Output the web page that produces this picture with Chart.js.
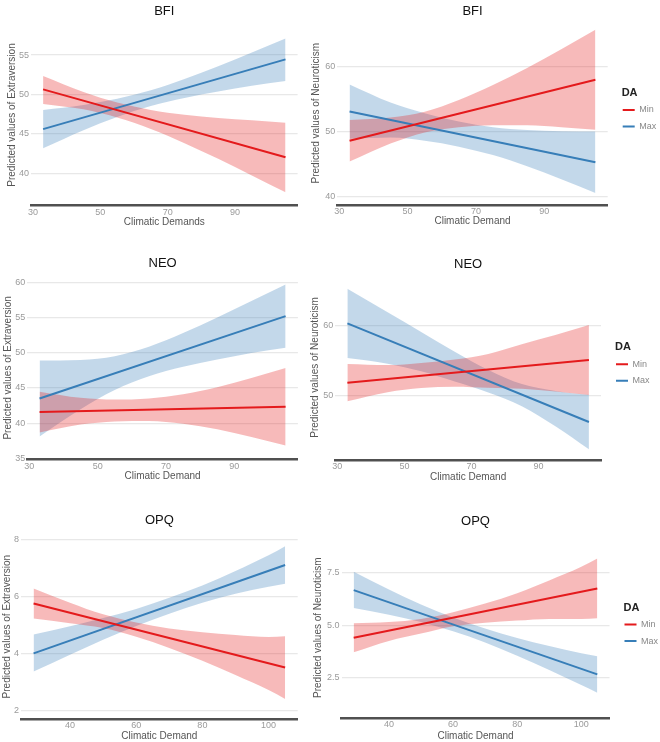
<!DOCTYPE html>
<html>
<head>
<meta charset="utf-8">
<title>Climatic demand interaction plots</title>
<script src="https://cdn.jsdelivr.net/npm/chart.js@4.4.1/dist/chart.umd.min.js"></script>
<style>
    html, body { margin: 0; padding: 0; background: #fff; }
    body { width: 660px; height: 742px; position: relative; overflow: hidden; }
    canvas { position: absolute; }
</style>
</head>
<body>
<canvas id="bfi-ext"></canvas>
<canvas id="bfi-neu"></canvas>
<canvas id="neo-ext"></canvas>
<canvas id="neo-neu"></canvas>
<canvas id="opq-ext"></canvas>
<canvas id="opq-neu"></canvas>
<script>
// --- DATA ---
const seriesNames = ['Min', 'Max'];

// BFI / NEO share the same climatic demand span, OPQ a wider one
const bigFiveX = [33, 45, 55, 65, 75, 85, 95, 105];
const bigFiveLineX = [33, 105];
const opqX = [29, 40, 50, 60, 70, 80, 90, 100, 105];
const opqLineX = [29, 105];

const ticks3070 = [30, 50, 70, 90];
const ticks40100 = [40, 60, 80, 100];

// BFI - Extraversion
const bfiExtMin = [50.65, 42.03];
const bfiExtMax = [45.6, 54.45];
const bfiExtMinLo = [48.8, 48.11, 47.07, 45.62, 43.82, 41.83, 39.73, 37.6];
const bfiExtMinHi = [52.35, 50.31, 48.97, 48.02, 47.42, 47.03, 46.73, 46.42];
const bfiExtMaxLo = [43.17, 45.47, 47.15, 48.53, 49.56, 50.39, 51.12, 51.7];
const bfiExtMaxHi = [48.03, 48.67, 49.45, 50.53, 51.96, 53.59, 55.32, 57.1];
const bfiExtTicks = [40, 45, 50, 55];

// BFI - Neuroticism
const bfiNeuMin = [48.6, 58.0];
const bfiNeuMax = [53.1, 45.3];
const bfiNeuMinLo = [45.4, 48.17, 49.87, 50.68, 50.99, 50.99, 50.7, 50.3];
const bfiNeuMinHi = [51.8, 52.17, 53.07, 54.88, 57.19, 59.79, 62.7, 65.7];
const bfiNeuMaxLo = [48.92, 49.1, 48.6, 47.7, 46.4, 44.67, 42.68, 40.56];
const bfiNeuMaxHi = [57.28, 54.5, 52.84, 51.56, 50.7, 50.27, 50.08, 50.04];
const bfiNeuTicks = [40, 50, 60];

// NEO - Extraversion
const neoExtMin = [41.56, 42.32];
const neoExtMax = [43.5, 55.2];
const neoExtMinLo = [38.66, 39.79, 40.24, 40.3, 39.9, 39.11, 38.02, 36.82];
const neoExtMinHi = [44.46, 43.59, 43.34, 43.5, 44.1, 45.11, 46.42, 47.82];
const neoExtMaxLo = [38.1, 41.97, 44.71, 46.65, 47.99, 49.02, 49.96, 50.72];
const neoExtMaxHi = [48.9, 48.97, 49.51, 50.85, 52.79, 55.02, 57.36, 59.68];
const neoExtTicks = [35, 40, 45, 50, 55, 60];

// NEO - Neuroticism
const neoNeuMin = [51.87, 55.12];
const neoNeuMax = [60.38, 46.22];
const neoNeuMinLo = [49.19, 50.5, 51.1, 51.3, 51.15, 51.0, 50.6, 50.1];
const neoNeuMinHi = [54.55, 54.4, 54.7, 55.2, 56.0, 57.4, 58.7, 60.14];
const neoNeuMaxLo = [55.4, 54.6, 53.49, 52.02, 50.45, 48.5, 45.6, 42.3];
const neoNeuMaxHi = [65.36, 61.97, 59.15, 56.32, 53.69, 51.67, 50.69, 50.12];
const neoNeuTicks = [50, 60];

// OPQ - Extraversion
const opqExtMin = [5.75, 3.5];
const opqExtMax = [4.0, 7.1];
const opqExtMinLo = [5.22, 5.06, 4.89, 4.58, 4.19, 3.74, 3.24, 2.71, 2.4];
const opqExtMinHi = [6.28, 5.78, 5.37, 5.08, 4.87, 4.74, 4.64, 4.57, 4.6];
const opqExtMaxLo = [3.36, 3.95, 4.48, 4.96, 5.39, 5.78, 6.09, 6.34, 6.44];
const opqExtMaxHi = [4.66, 4.95, 5.24, 5.56, 5.95, 6.38, 6.89, 7.44, 7.76];
const opqExtTicks = [2, 4, 6, 8];

// OPQ - Neuroticism
const opqNeuMin = [4.4, 6.75];
const opqNeuMax = [6.67, 2.66];
const opqNeuMinLo = [3.71, 4.25, 4.6, 4.95, 5.12, 5.22, 5.3, 5.3, 5.33];
const opqNeuMinHi = [5.09, 5.15, 5.3, 5.62, 6.03, 6.52, 7.13, 7.78, 8.18];
const opqNeuMaxLo = [5.82, 5.5, 5.15, 4.71, 4.18, 3.55, 2.87, 2.15, 1.78];
const opqNeuMaxHi = [7.54, 6.7, 5.99, 5.37, 4.84, 4.39, 4.01, 3.67, 3.52];
const opqNeuTicks = [2.5, 5.0, 7.5];

// --- STYLE ---
const RED = '#E41A1C';
const BLUE = '#377EB8';
const RED_BAND = 'rgba(228, 26, 28, 0.3)';
const BLUE_BAND = 'rgba(55, 126, 184, 0.3)';
const FONT = '"Liberation Sans", Arial, Helvetica, sans-serif';
const TITLE_SIZE = 13;
const AXIS_TITLE_SIZE = 10;
const LEGEND_W = 29;

Chart.defaults.font.family = FONT;

// moves the legend a bit right of the plot (ggplot guide box) and
// widens its clip box so "Min" / "Max" are not cut off
const legendNudge = {
    id: 'legendNudge',
    afterLayout(chart, args, opts) {
        const lg = chart.legend;
        if (!lg || !lg.options.display) return;
        lg.left += opts.dx || 0;
        lg.right = chart.width;
    }
};

const pts = (xs, ys) => xs.map((x, i) => ({ x, y: ys[i] }));

// --- PANELS ---
// box: canvas [left, top, width, height]; area: plot [left, top, right, bottom]
const panels = [
    {
        id: 'bfi-ext', title: 'BFI', yTitle: 'Predicted values of Extraversion', xTitle: 'Climatic Demands',
        box: [0, 0, 300, 240], area: [31, 24.3, 297.6, 205.7], titleY: 11.5, yTitleX: 12.3, xTitleY: 222,
        x: [29.41, 108.59], y: [35.89, 58.9], xTicks: ticks3070, yTicks: bfiExtTicks,
        bandX: bigFiveX, lineX: bigFiveLineX,
        min: bfiExtMin, max: bfiExtMax, minLo: bfiExtMinLo, minHi: bfiExtMinHi, maxLo: bfiExtMaxLo, maxHi: bfiExtMaxHi,
        legend: false
    },
    {
        id: 'bfi-neu', title: 'BFI', yTitle: 'Predicted values of Neuroticism', xTitle: 'Climatic Demand',
        box: [300, 0, 360, 240], area: [337.3, 21.2, 607.7, 205.1], titleY: 11, yTitleX: 316.7, xTitleY: 221.7,
        x: [29.41, 108.6], y: [38.71, 67.0], xTicks: ticks3070, yTicks: bfiNeuTicks,
        bandX: bigFiveX, lineX: bigFiveLineX,
        min: bfiNeuMin, max: bfiNeuMax, minLo: bfiNeuMinLo, minHi: bfiNeuMinHi, maxLo: bfiNeuMaxLo, maxHi: bfiNeuMaxHi,
        legend: true
    },
    {
        id: 'neo-ext', title: 'NEO', yTitle: 'Predicted values of Extraversion', xTitle: 'Climatic Demand',
        box: [0, 240, 300, 250], area: [27.3, 276, 297.9, 459.7], titleY: 263, yTitleX: 8.3, xTitleY: 476.7,
        x: [29.41, 108.6], y: [34.8, 60.9], xTicks: ticks3070, yTicks: neoExtTicks,
        bandX: bigFiveX, lineX: bigFiveLineX,
        min: neoExtMin, max: neoExtMax, minLo: neoExtMinLo, minHi: neoExtMinHi, maxLo: neoExtMaxLo, maxHi: neoExtMaxHi,
        legend: false
    },
    {
        id: 'neo-neu', title: 'NEO', yTitle: 'Predicted values of Neuroticism', xTitle: 'Climatic Demand',
        box: [300, 240, 360, 250], area: [335.3, 275, 601, 459.8], titleY: 264, yTitleX: 315, xTitleY: 477.3,
        x: [29.4, 108.6], y: [40.8, 67.32], xTicks: ticks3070, yTicks: neoNeuTicks,
        bandX: bigFiveX, lineX: bigFiveLineX,
        min: neoNeuMin, max: neoNeuMax, minLo: neoNeuMinLo, minHi: neoNeuMinHi, maxLo: neoNeuMaxLo, maxHi: neoNeuMaxHi,
        legend: true
    },
    {
        id: 'opq-ext', title: 'OPQ', yTitle: 'Predicted values of Extraversion', xTitle: 'Climatic Demand',
        box: [0, 490, 300, 260], area: [21, 534, 297.7, 719.4], titleY: 520, yTitleX: 7.3, xTitleY: 736.7,
        x: [25.2, 108.8], y: [1.68, 8.19], xTicks: ticks40100, yTicks: opqExtTicks,
        bandX: opqX, lineX: opqLineX,
        min: opqExtMin, max: opqExtMax, minLo: opqExtMinLo, minHi: opqExtMinHi, maxLo: opqExtMaxLo, maxHi: opqExtMaxHi,
        legend: false
    },
    {
        id: 'opq-neu', title: 'OPQ', yTitle: 'Predicted values of Neuroticism', xTitle: 'Climatic Demand',
        box: [300, 490, 360, 260], area: [341.5, 537, 609.5, 718.3], titleY: 521, yTitleX: 318.3, xTitleY: 736,
        x: [25.2, 108.8], y: [0.567, 9.2], xTicks: ticks40100, yTicks: opqNeuTicks, decimals: 1,
        bandX: opqX, lineX: opqLineX,
        min: opqNeuMin, max: opqNeuMax, minLo: opqNeuMinLo, minHi: opqNeuMinHi, maxLo: opqNeuMaxLo, maxHi: opqNeuMaxHi,
        legend: true
    }
];

// --- RENDER ---
function renderPanel(p) {
    const canvas = document.getElementById(p.id);
    const [cx, cy, cw, ch] = p.box;
    const [L, T, R, B] = p.area;
    canvas.width = cw;
    canvas.height = ch;
    canvas.style.left = cx + 'px';
    canvas.style.top = cy + 'px';
    canvas.style.width = cw + 'px';
    canvas.style.height = ch + 'px';

    const titleLH = TITLE_SIZE * 1.2;
    const axisLH = AXIS_TITLE_SIZE * 1.2;
    const yWidth = L - cx;
    const xHeight = p.xTitleY - B + axisLH / 2;
    const legendW = p.legend ? LEGEND_W : 0;

    const line = (label, ys, color) => ({
        label, data: pts(p.lineX, ys), borderColor: color, backgroundColor: color,
        borderWidth: 2, pointRadius: 0, fill: false
    });
    const band = (ys, color, fill) => ({
        label: 'band', data: pts(p.bandX, ys), borderWidth: 0, pointRadius: 0,
        backgroundColor: color, fill, cubicInterpolationMode: 'monotone'
    });

    new Chart(canvas, {
        type: 'line',
        data: {
            datasets: [
                line(seriesNames[0], p.min, RED),
                line(seriesNames[1], p.max, BLUE),
                band(p.minHi, RED_BAND, '+1'),
                band(p.minLo, RED_BAND, false),
                band(p.maxHi, BLUE_BAND, '+1'),
                band(p.maxLo, BLUE_BAND, false),
            ]
        },
        options: {
            responsive: false,
            animation: false,
            devicePixelRatio: 1,
            events: [],
            layout: {
                padding: { left: 0, top: 0, right: cx + cw - R - legendW, bottom: cy + ch - B - xHeight }
            },
            scales: {
                x: {
                    type: 'linear', min: p.x[0], max: p.x[1],
                    afterBuildTicks: s => { s.ticks = p.xTicks.map(v => ({ value: v })); },
                    afterFit: s => { s.height = xHeight; },
                    grid: { display: false, drawTicks: false },
                    border: { display: true, color: '#505050', width: 2.5 },
                    ticks: { color: '#9a9a9a', font: { size: 9 }, padding: 1, maxRotation: 0, autoSkip: false },
                    title: { display: true, text: p.xTitle, color: '#555', font: { size: AXIS_TITLE_SIZE }, padding: 0 }
                },
                y: {
                    type: 'linear', min: p.y[0], max: p.y[1],
                    afterBuildTicks: s => { s.ticks = p.yTicks.map(v => ({ value: v })); },
                    afterFit: s => { s.width = yWidth; },
                    grid: { color: '#e8e8e8', lineWidth: 1.2, drawTicks: false },
                    border: { display: false },
                    ticks: {
                        color: '#9a9a9a', font: { size: 9 }, padding: 2,
                        callback: v => p.decimals ? v.toFixed(p.decimals) : v
                    },
                    title: {
                        display: true, text: p.yTitle, color: '#555', font: { size: AXIS_TITLE_SIZE },
                        padding: { top: p.yTitleX - cx - axisLH / 2, bottom: 0 }
                    }
                }
            },
            plugins: {
                title: {
                    display: true, text: p.title, fullSize: false, color: '#111',
                    font: { size: TITLE_SIZE, weight: 'normal' },
                    padding: { top: p.titleY - cy - titleLH / 2, bottom: T - p.titleY - titleLH / 2 }
                },
                legend: {
                    display: p.legend, position: 'right', fullSize: false, align: 'center', maxWidth: LEGEND_W,
                    title: {
                        display: true, text: 'DA', position: 'center', color: '#222',
                        font: { size: 11, weight: 'bold' }, padding: { top: 0, bottom: -3 }
                    },
                    labels: {
                        usePointStyle: true, pointStyle: 'line', pointStyleWidth: 12,
                        color: '#888', font: { size: 9 }, padding: 7.6,
                        filter: item => item.datasetIndex < 2
                    }
                },
                legendNudge: { dx: 7.4 },
                tooltip: { enabled: false }
            }
        },
        plugins: [legendNudge]
    });
}

panels.forEach(renderPanel);
</script>
</body>
</html>
